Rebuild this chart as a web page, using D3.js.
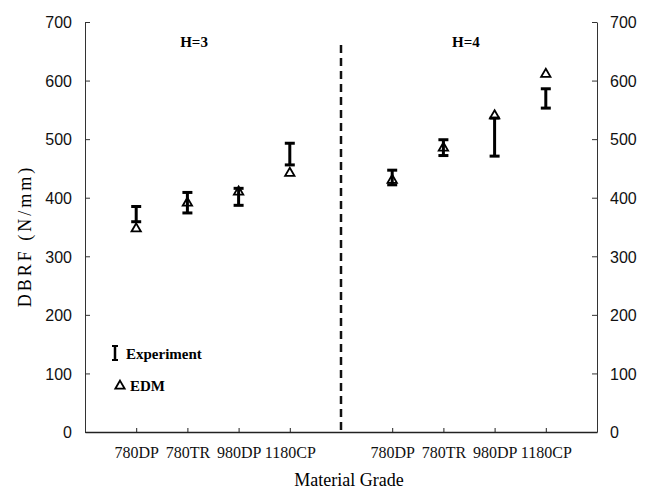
<!DOCTYPE html>
<html><head><meta charset="utf-8">
<script src="https://cdn.jsdelivr.net/npm/d3@7"></script>
<style>
body{margin:0;background:#fff;}
svg{display:block;}
</style></head>
<body>
<svg id="chart" width="652" height="493"></svg>
<script>
// ---- data ----
const categories = ["780DP", "780TR", "980DP", "1180CP"];
const groups = ["H=3", "H=4"];
const expLowH3  = [359, 374, 387, 456];
const expHighH3 = [385, 409, 416, 493];
const edmH3     = [347, 391, 410, 442];
const expLowH4  = [422, 472, 471, 553];
const expHighH4 = [447, 499, 536, 586];
const edmH4     = [430, 485, 540, 611];
const yTicks = [0, 100, 200, 300, 400, 500, 600, 700];

const svg = d3.select("#chart");
const x = d3.scaleLinear().domain([0, 10]).range([85, 597]);
const y = d3.scaleLinear().domain([0, 700]).range([432, 22]);

const pos = (g, i) => (g === 0 ? 1 + i : 6 + i);

// axes
const sans = "'Liberation Sans', Arial, sans-serif";
const serif = "'Liberation Serif', 'Times New Roman', serif";

const yl = svg.append("g").attr("transform", `translate(${x(0)},0)`)
  .call(d3.axisLeft(y).tickValues(yTicks).tickSize(-5).tickSizeOuter(0).tickPadding(13));
const yr = svg.append("g").attr("transform", `translate(${x(10)},0)`)
  .call(d3.axisRight(y).tickValues(yTicks).tickSize(-5).tickSizeOuter(0).tickPadding(13));
[yl, yr].forEach(a => {
  a.selectAll("text").attr("font-family", sans).attr("font-size", 16).attr("fill", "#111").attr("dy", "0.36em");
  a.selectAll("path,line").attr("stroke", "#333");
});

const tickPos = [];
groups.forEach((g, gi) => categories.forEach((c, i) => tickPos.push({v: pos(gi, i), c})));
const xa = svg.append("g").attr("transform", `translate(0,${y(0)})`)
  .call(d3.axisBottom(x).tickValues(tickPos.map(d => d.v)).tickSize(-4).tickSizeOuter(0).tickPadding(15)
    .tickFormat((d, i) => tickPos[i].c));
xa.selectAll("path,line").attr("stroke", "#222");
xa.select("path").attr("stroke-width", 1.3);
xa.selectAll("text").attr("font-family", serif).attr("font-size", 16).attr("fill", "#111");

// dashed separator
svg.append("line")
  .attr("x1", x(5)).attr("x2", x(5)).attr("y1", 45).attr("y2", y(0))
  .attr("stroke", "#111").attr("stroke-width", 2.5).attr("stroke-dasharray", "8,5");

// group titles
svg.append("text").attr("x", x(2.13)).attr("y", 47).attr("text-anchor", "middle")
  .attr("font-family", serif).attr("font-weight", "bold").attr("font-size", 15).text(groups[0]);
svg.append("text").attr("x", x(7.44)).attr("y", 47).attr("text-anchor", "middle")
  .attr("font-family", serif).attr("font-weight", "bold").attr("font-size", 15).text(groups[1]);

// data
const lows = [expLowH3, expLowH4], highs = [expHighH3, expHighH4], edms = [edmH3, edmH4];
const pts = [];
groups.forEach((g, gi) => categories.forEach((c, i) => pts.push({
  xv: pos(gi, i), lo: lows[gi][i], hi: highs[gi][i], edm: edms[gi][i]
})));

const eb = svg.append("g").selectAll("g").data(pts).join("g");
eb.append("line").attr("x1", d => x(d.xv)).attr("x2", d => x(d.xv))
  .attr("y1", d => y(d.lo)).attr("y2", d => y(d.hi)).attr("stroke", "#000").attr("stroke-width", 3);
eb.append("line").attr("x1", d => x(d.xv) - 5).attr("x2", d => x(d.xv) + 5)
  .attr("y1", d => y(d.lo)).attr("y2", d => y(d.lo)).attr("stroke", "#000").attr("stroke-width", 3);
eb.append("line").attr("x1", d => x(d.xv) - 5).attr("x2", d => x(d.xv) + 5)
  .attr("y1", d => y(d.hi)).attr("y2", d => y(d.hi)).attr("stroke", "#000").attr("stroke-width", 3);

const tri = d3.symbol(d3.symbolTriangle, 38);
svg.append("g").selectAll("path").data(pts).join("path")
  .attr("d", tri)
  .attr("transform", d => `translate(${x(d.xv)},${y(d.edm)})`)
  .attr("fill", "none").attr("stroke", "#000").attr("stroke-width", 1.8);

// legend
const lg = svg.append("g");
lg.append("line").attr("x1", 115).attr("x2", 115).attr("y1", 346).attr("y2", 360).attr("stroke", "#000").attr("stroke-width", 2.5);
lg.append("line").attr("x1", 112).attr("x2", 118).attr("y1", 346).attr("y2", 346).attr("stroke", "#000").attr("stroke-width", 2);
lg.append("line").attr("x1", 112).attr("x2", 118).attr("y1", 360).attr("y2", 360).attr("stroke", "#000").attr("stroke-width", 2);
lg.append("text").attr("x", 126).attr("y", 359).attr("font-family", serif).attr("font-weight", "bold")
  .attr("font-size", 15).text("Experiment");
lg.append("path").attr("d", tri).attr("transform", "translate(120,386)")
  .attr("fill", "none").attr("stroke", "#000").attr("stroke-width", 1.8);
lg.append("text").attr("x", 130).attr("y", 391).attr("font-family", serif).attr("font-weight", "bold")
  .attr("font-size", 15).text("EDM");

// axis titles
svg.append("text").attr("transform", "translate(31,236) rotate(-90)").attr("text-anchor", "middle")
  .attr("font-family", serif).attr("font-size", 18).attr("letter-spacing", 3).text("DBRF (N/mm)");
svg.append("text").attr("x", 349).attr("y", 486).attr("text-anchor", "middle")
  .attr("font-family", serif).attr("font-size", 18).text("Material Grade");
</script>
</body></html>
